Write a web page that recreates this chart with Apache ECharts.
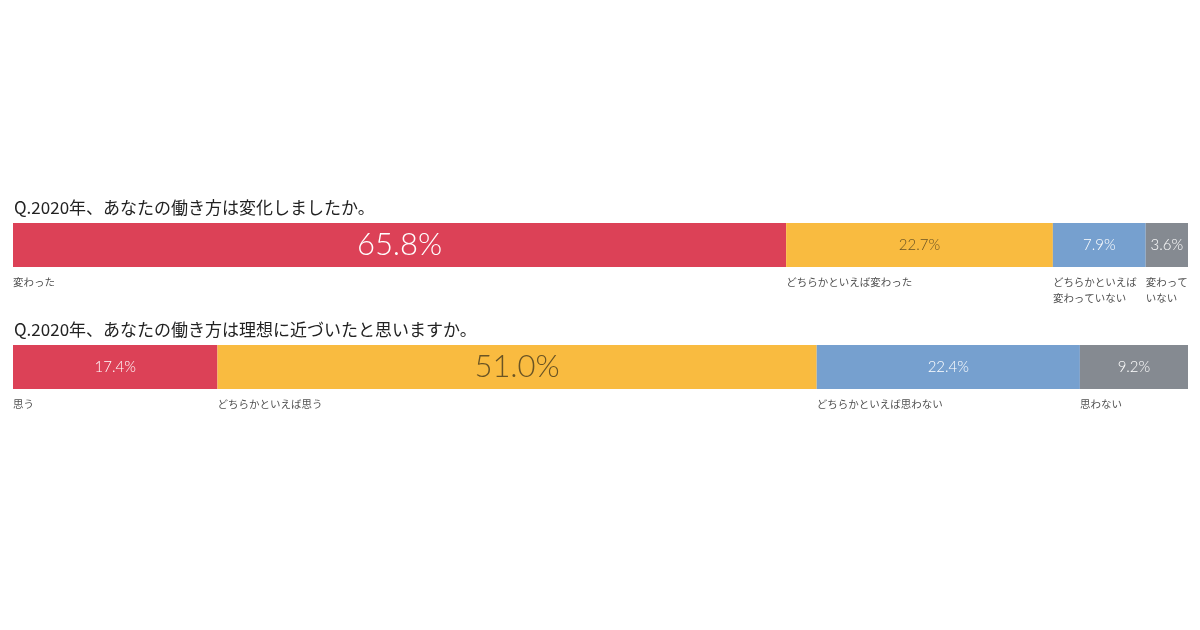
<!DOCTYPE html>
<html><head><meta charset="utf-8">
<script src="https://cdn.jsdelivr.net/npm/echarts@6/dist/echarts.min.js"></script>
<style>html,body{margin:0;padding:0;background:#fff;}#c{width:1200px;height:630px;}</style>
</head><body><div id="c"></div>
<script>
const q1Title = 'Q.2020年、あなたの働き方は変化しましたか。';
const q1Labels = ['変わった', 'どちらかといえば変わった', 'どちらかといえば\n変わっていない', '変わって\nいない'];
const q1Values = [65.8, 22.7, 7.9, 3.6];
const q2Title = 'Q.2020年、あなたの働き方は理想に近づいたと思いますか。';
const q2Labels = ['思う', 'どちらかといえば思う', 'どちらかといえば思わない', '思わない'];
const q2Values = [17.4, 51.0, 22.4, 9.2];

const colors = ['#dc4157', '#f9bb40', '#76a0cf', '#858a91'];
const textColors = ['#ffffff', '#6a5424', '#ffffff', '#ffffff'];
const numFont = "Lato, 'Noto Sans', sans-serif";
const jpFont = "'Noto Sans CJK JP', 'Noto Sans', sans-serif";

const chart = echarts.init(document.getElementById('c'));
const grids = [], xAxes = [], yAxes = [], series = [];
const questions = [
  {title: q1Title, labels: q1Labels, values: q1Values, top: 223, big: 0},
  {title: q2Title, labels: q2Labels, values: q2Values, top: 345, big: 1}
];
questions.forEach((q, gi) => {
  grids.push({left: 13, right: 12, top: q.top, height: 44});
  xAxes.push({type: 'value', gridIndex: gi, min: 0, max: 100, show: false});
  yAxes.push({type: 'category', gridIndex: gi, data: ['q'], show: false});
  q.values.forEach((v, i) => {
    series.push({
      type: 'bar', xAxisIndex: gi, yAxisIndex: gi, stack: 's' + gi,
      barWidth: 44, data: [v], silent: true,
      itemStyle: {color: colors[i]},
      label: {
        show: true, position: 'inside',
        formatter: v.toFixed(1) + '%',
        color: textColors[i], fontFamily: numFont, fontWeight: 300,
        fontSize: i === q.big ? 31 : 15
      }
    });
  });
  let cum = 0;
  const starts = q.values.map(v => { const s = cum; cum += v; return s; });
  series.push({
    type: 'scatter', xAxisIndex: gi, yAxisIndex: gi, symbolSize: 0, silent: true,
    data: starts.map((s, i) => ({value: [s, 'q'], name: q.labels[i]})),
    label: {
      show: true, position: [0, 29], align: 'left', verticalAlign: 'top',
      formatter: p => p.name, color: '#222', fontFamily: jpFont,
      fontSize: 10.5, lineHeight: 16
    }
  });
});

chart.setOption({
  animation: false,
  title: questions.map(q => ({
    text: q.title, left: 9, top: q.top - 29,
    textStyle: {fontFamily: jpFont, fontSize: 17, fontWeight: 'normal', color: '#222'}
  })),
  grid: grids, xAxis: xAxes, yAxis: yAxes, series: series
});
</script></body></html>
